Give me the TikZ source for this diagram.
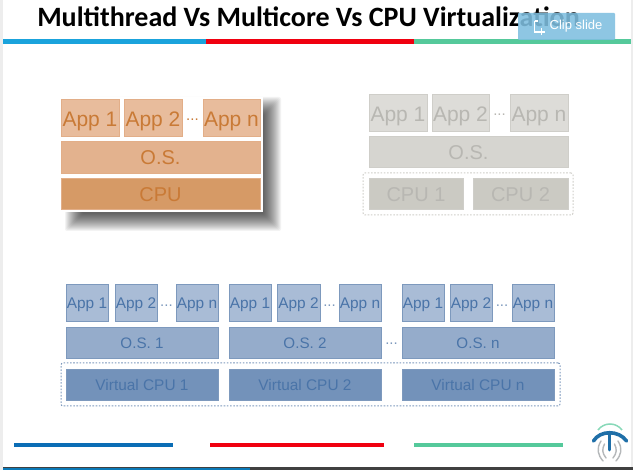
\documentclass[tikz,border=0pt]{standalone}
\usepackage{fontspec}
\setmainfont{Liberation Sans}
\newfontfamily\titlefont{Carlito}
\definecolor{orApp}{HTML}{E8BC9C}\definecolor{orOS}{HTML}{E3B28E}\definecolor{orCPU}{HTML}{D69A66}\definecolor{orLine}{HTML}{E2AE88}\definecolor{orText}{HTML}{C97A36}
\definecolor{grApp}{HTML}{DDDCD8}\definecolor{grOS}{HTML}{D6D5D0}\definecolor{grCPU}{HTML}{CBCAC3}\definecolor{grLine}{HTML}{CFCEC9}\definecolor{grText}{HTML}{B8B7B2}
\definecolor{blApp}{HTML}{A9BCD6}\definecolor{blOS}{HTML}{95ACCB}\definecolor{blCPU}{HTML}{7392BA}\definecolor{blLine}{HTML}{7D99BD}\definecolor{blText}{HTML}{4A74A8}
\definecolor{lnBlue}{HTML}{1AA3DC}\definecolor{lnRed}{HTML}{F00010}\definecolor{lnGreen}{HTML}{55C99B}\definecolor{lnDeep}{HTML}{0B6DB5}
\definecolor{edge}{HTML}{EDEDED}\definecolor{btn}{HTML}{7FBFE0}\definecolor{logoB}{HTML}{1F6FA8}\definecolor{logoG}{HTML}{B5B8BA}\definecolor{footBlue}{HTML}{0C7AB8}
\tikzset{
  x=1pt,y=-1pt,
  base/.style={anchor=north west,inner sep=0pt,outer sep=0pt,line width=.7pt,align=center},
  orapp/.style={base,fill=orApp,draw=orLine,text=orText,text height=17.2pt,text depth=0pt,font=\fontsize{21}{21}\selectfont},
  oros/.style={base,fill=orOS,draw=orLine,text=orText,text height=15.8pt,text depth=0pt,font=\fontsize{20}{20}\selectfont},
  orcpu/.style={base,fill=orCPU,draw=orLine,text=orText,text height=15.2pt,text depth=0pt,font=\fontsize{20}{20}\selectfont},
  grapp/.style={base,fill=grApp,draw=grLine,text=grText,text height=17.2pt,text depth=0pt,font=\fontsize{21}{21}\selectfont},
  gros/.style={base,fill=grOS,draw=grLine,text=grText,text height=15.2pt,text depth=0pt,font=\fontsize{20}{20}\selectfont},
  grcpu/.style={base,fill=grCPU,draw=grLine,text=grText,text height=15.2pt,text depth=0pt,font=\fontsize{20}{20}\selectfont},
  blapp/.style={base,fill=blApp,draw=blLine,text=blText,text height=12.8pt,text depth=0pt,font=\fontsize{15.4}{15.4}\selectfont},
  blos/.style={base,fill=blOS,draw=blLine,text=blText,text height=12pt,text depth=0pt,font=\fontsize{15.2}{15.2}\selectfont},
  blcpu/.style={base,fill=blCPU,draw=blLine,text=blText,text height=12pt,text depth=0pt,font=\fontsize{15.4}{15.4}\selectfont},
  dots/.style={inner sep=0pt,font=\fontsize{15}{15}\selectfont},
  bar/.style={line width=#1,line cap=butt},
  group/.style={draw=#1,line width=1pt,dash pattern=on 1.6pt off 1.6pt,rounded corners=2pt},
}
\newcommand{\bx}[7]{\node[#2,minimum width=#5pt,minimum height=#6pt] (#1) at (#3,#4) {#7};}
\begin{document}
\begin{tikzpicture}
\useasboundingbox (0,0) rectangle (633,470);
\fill[white] (0,0) rectangle (633,470);
\fill[edge] (0,0) rectangle (2.5,470);
\fill[edge] (631,0) rectangle (633,470);
% top rules
\draw[bar=5pt,lnBlue] (3,42) -- (206,42);
\draw[bar=5pt,lnRed] (206,42) -- (414,42);
\draw[bar=5pt,lnGreen] (414,42) -- (631,42);
% title
\node[anchor=base,inner sep=0pt,font=\titlefont\bfseries\fontsize{28}{28}\selectfont,text=black] (title) at (308.5,26.5) {Multithread Vs Multicore Vs CPU Virtualization};
% clip button
\node[base,fill=btn,fill opacity=.88,rounded corners=1pt,minimum width=97pt,minimum height=27pt,line width=0pt] (clip) at (518,13) {};
\node[anchor=west,inner sep=0pt,text=white,font=\fontsize{13}{13}\selectfont] (cliptext) at (549.5,26.5) {Clip slide};
\draw[white,line width=1.3pt] (534.5,21) -- (534.5,32) -- (539,32) (541.5,28.5) -- (541.5,35) (538.5,32) -- (545,32) (534.5,21) -- (538,21);
% shadow
\foreach \e in {-6,-5,...,11}{
  \fill[black,fill opacity=.048,rounded corners=2pt] (76-\e,108-\e) rectangle (270+\e,220+\e);
}
\fill[white] (60,97) rectangle (263,212);
% orange stack
\bx{a1}{orapp}{61}{99}{58}{37}{App 1}
\bx{a2}{orapp}{124}{99}{58}{37}{App 2}
\bx{an}{orapp}{203}{99}{57}{37}{App n}
\node[dots,text=orText] (adots) at (192.5,120) {...};
\bx{aos}{oros}{61}{141}{199}{32}{O.S.}
\bx{acpu}{orcpu}{61}{178}{199}{31}{CPU}
% gray stack
\bx{b1}{grapp}{369}{94}{58}{37}{App 1}
\bx{b2}{grapp}{432}{94}{57}{37}{App 2}
\bx{bn}{grapp}{510}{94}{58}{37}{App n}
\node[dots,text=grText] (bdots) at (499.5,115) {...};
\bx{bos}{gros}{369}{136}{199}{31}{O.S.}
\node[base,group=grLine,minimum width=210pt,minimum height=42pt] (bgroup) at (363,173) {};
\bx{bc1}{grcpu}{369}{178}{94}{31}{CPU 1}
\bx{bc2}{grcpu}{473}{178}{95}{31}{CPU 2}
% blue stacks
\node[base,group=blLine,minimum width=499pt,minimum height=43pt] (cgroup) at (61,363) {};
\bx{c1a}{blapp}{66}{284}{42}{37}{App 1}
\bx{c1b}{blapp}{115}{284}{42}{37}{App 2}
\bx{c1n}{blapp}{176}{284}{42}{37}{App n}
\node[dots,text=blLine] (c1d) at (166.5,306) {...};
\bx{c1o}{blos}{66}{327}{152}{31}{O.S. 1}
\bx{c1c}{blcpu}{66}{369}{152}{31}{Virtual CPU 1}
\bx{c2a}{blapp}{229}{284}{42}{37}{App 1}
\bx{c2b}{blapp}{277}{284}{43}{37}{App 2}
\bx{c2n}{blapp}{339}{284}{42}{37}{App n}
\node[dots,text=blLine] (c2d) at (329.5,306) {...};
\bx{c2o}{blos}{229}{327}{152}{31}{O.S. 2}
\bx{c2c}{blcpu}{229}{369}{152}{31}{Virtual CPU 2}
\node[dots,text=blLine] (cdots) at (391.5,344) {...};
\bx{c3a}{blapp}{402}{284}{42}{37}{App 1}
\bx{c3b}{blapp}{450}{284}{42}{37}{App 2}
\bx{c3n}{blapp}{512}{284}{42}{37}{App n}
\node[dots,text=blLine] (c3d) at (502,306) {...};
\bx{c3o}{blos}{402}{327}{152}{31}{O.S. n}
\bx{c3c}{blcpu}{402}{369}{152}{31}{Virtual CPU n}
% bottom rules
\draw[bar=4.5pt,lnDeep] (14,445) -- (173,445);
\draw[bar=4.5pt,lnRed] (210,445) -- (384,445);
\draw[bar=4.5pt,lnGreen] (414,445) -- (563,445);
% bottom edge
\fill[black!75] (2.5,467) rectangle (633,470);
\fill[footBlue] (2.5,468) rectangle (250,470);
% logo
\draw[logoG,line width=1.4pt,line cap=round] (601,441) .. controls (596,449) and (598,455) .. (603,461);
\draw[logoG,line width=1.4pt,line cap=round] (618,441) .. controls (623,449) and (621,455) .. (616,461);
\draw[logoG,line width=1.4pt,line cap=round] (604.5,444) .. controls (602,449) and (602,453) .. (606,458);
\draw[logoG,line width=1.4pt,line cap=round] (614.5,444) .. controls (617,449) and (617,453) .. (613,458);
\draw[lnGreen!70,line width=1.5pt] (598,430) .. controls (604,422) and (616,422) .. (622,430);
\draw[logoB,line width=3.6pt,line cap=round] (593.5,441) .. controls (600,430) and (619,430) .. (626.5,441);
\draw[logoB,line width=3pt,line cap=round] (609.5,433) -- (609.5,450);
\end{tikzpicture}
\end{document}
